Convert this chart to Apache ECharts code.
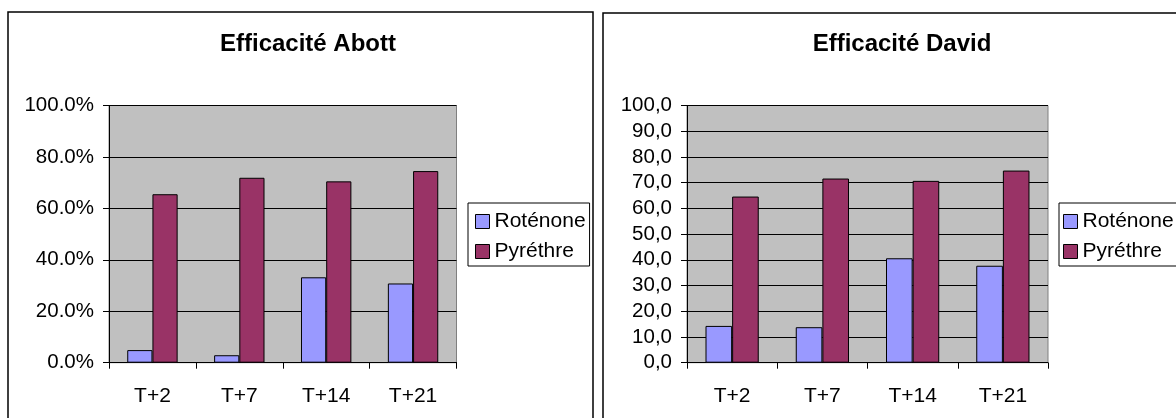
<!DOCTYPE html>
<html>
<head>
<meta charset="utf-8">
<script src="https://cdn.jsdelivr.net/npm/echarts@6/dist/echarts.min.js"></script>
<style>
html,body{margin:0;padding:0;background:#fff;}
#c{width:1176px;height:418px;}
</style>
</head>
<body>
<div id="c"></div>
<script>
var categories = ['T+2', 'T+7', 'T+14', 'T+21'];
var seriesNames = ['Roténone', 'Pyréthre'];
var abottRotenone = [0.049, 0.029, 0.332, 0.308];
var abottPyrethre = [0.655, 0.719, 0.705, 0.745];
var davidRotenone = [14.3, 13.8, 40.6, 37.7];
var davidPyrethre = [64.6, 71.6, 70.7, 74.7];
var titles = ['Efficacité Abott', 'Efficacité David'];

var FONT = 'Arial, "Liberation Sans", sans-serif';
var colRot = '#9999ff', colPyr = '#993366';

function xAxis(gi) {
  return {
    type: 'category', gridIndex: gi, data: categories,
    axisLine: {lineStyle: {color: '#000', width: 1}},
    axisTick: {show: true, length: 6, lineStyle: {color: '#000'}},
    axisLabel: {color: '#000', fontFamily: FONT, fontSize: 21, margin: 23}
  };
}
function yAxis(gi, max, interval, fmt) {
  return {
    type: 'value', gridIndex: gi, min: 0, max: max, interval: interval,
    axisLine: {show: true, lineStyle: {color: '#000', width: 1}},
    axisTick: {show: true, length: 6, lineStyle: {color: '#000'}},
    splitLine: {show: true, lineStyle: {color: '#000', width: 1}},
    axisLabel: {color: '#000', fontFamily: FONT, fontSize: 20.5, margin: 15, formatter: fmt}
  };
}
function bar(name, data, gi, color, gap) {
  return {
    type: 'bar', name: name, data: data, xAxisIndex: gi, yAxisIndex: gi,
    barGap: '0%', barCategoryGap: gap,
    itemStyle: {color: color, borderColor: '#000', borderWidth: 1},
    animation: false
  };
}
function legend(left, padLeft) {
  return {
    data: seriesNames, orient: 'vertical', left: left, top: 203,
    itemWidth: 14, itemHeight: 14, itemGap: 9,
    padding: [8, 4, 4, padLeft],
    borderColor: '#000', borderWidth: 1, backgroundColor: '#fff',
    icon: 'rect',
    itemStyle: {borderColor: '#000', borderWidth: 1},
    textStyle: {color: '#000', fontFamily: FONT, fontSize: 21}
  };
}

var chart = echarts.init(document.getElementById('c'), null, {renderer: 'canvas'});
chart.setOption({
  backgroundColor: '#fff',
  animation: false,
  graphic: [
    {type: 'rect', shape: {x: 8, y: 12, width: 585, height: 420}, style: {fill: 'none', stroke: '#000', lineWidth: 1.5}, z: -1},
    {type: 'rect', shape: {x: 603, y: 13, width: 600, height: 420}, style: {fill: 'none', stroke: '#000', lineWidth: 1.5}, z: -1}
  ],
  title: [
    {text: titles[0], left: 303, top: 27, textAlign: 'center', textStyle: {fontFamily: FONT, fontWeight: 'bold', fontSize: 24, color: '#000'}},
    {text: titles[1], left: 897, top: 27, textAlign: 'center', textStyle: {fontFamily: FONT, fontWeight: 'bold', fontSize: 24, color: '#000'}}
  ],
  legend: [legend(468, 7), legend(1059, 4)],
  grid: [
    {left: 109, top: 105.5, width: 347.5, height: 257.2, show: true, backgroundColor: '#c0c0c0', borderColor: '#808080', borderWidth: 1},
    {left: 687, top: 105.5, width: 361, height: 257.2, show: true, backgroundColor: '#c0c0c0', borderColor: '#808080', borderWidth: 1}
  ],
  xAxis: [xAxis(0), xAxis(1)],
  yAxis: [
    yAxis(0, 1, 0.2, function (v) { return (v * 100).toFixed(1) + '%'; }),
    yAxis(1, 100, 10, function (v) { return v.toFixed(1).replace('.', ','); })
  ],
  series: [
    bar(seriesNames[0], abottRotenone, 0, colRot, '42%'),
    bar(seriesNames[1], abottPyrethre, 0, colPyr, '42%'),
    bar(seriesNames[0], davidRotenone, 1, colRot, '41%'),
    bar(seriesNames[1], davidPyrethre, 1, colPyr, '41%')
  ]
});
</script>
</body>
</html>
